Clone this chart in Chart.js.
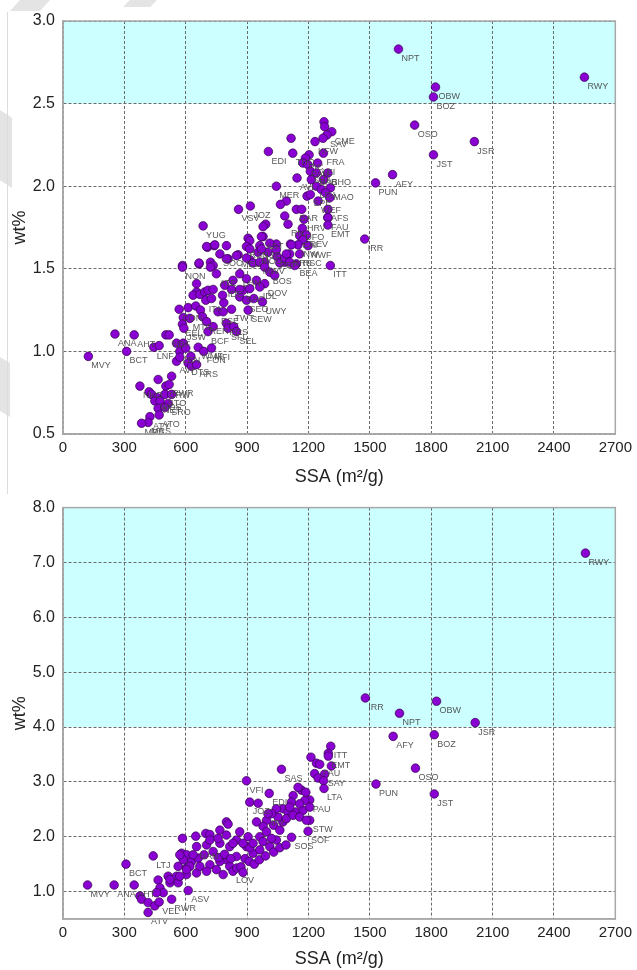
<!DOCTYPE html>
<html>
<head>
<meta charset="utf-8">
<title>SSA vs wt%</title>
<script src="https://cdn.jsdelivr.net/npm/chart.js@4.4.0/dist/chart.umd.min.js"></script>
<style>
  body { margin: 0; background: #fff; }
  #wrap { position: relative; width: 637px; height: 970px; overflow: hidden; }
  canvas { position: absolute; left: 0; }
  .mark { position: absolute; background: #e4e4e4; }
</style>
</head>
<body>
<div id="wrap">
  <!-- faint page marks behind the figure -->
  <div class="mark" style="left:10px;top:0;width:40px;height:11px;clip-path:polygon(25% 0,100% 0,75% 100%,0 100%)"></div>
  <div class="mark" style="left:123px;top:0;width:34px;height:7px;clip-path:polygon(20% 0,100% 0,80% 100%,0 100%)"></div>
  <div class="mark" style="left:0;top:110px;width:12px;height:78px;clip-path:polygon(0 0,100% 10%,100% 100%,0 90%)"></div>
  <div class="mark" style="left:0;top:357px;width:10px;height:60px;clip-path:polygon(0 0,100% 10%,100% 100%,0 90%)"></div>
  <div class="mark" style="left:7px;top:12px;width:1px;height:482px;background:#dcdcdc"></div>
  <canvas id="chartTop" width="637" height="490" style="top:0"></canvas>
  <canvas id="chartBottom" width="637" height="480" style="top:490px"></canvas>
</div>
<script>
// 上段: SSA と wt% (基準 2.5 以上を強調)
const sitesTop = [
  'NPT','OBW','BOZ','RWY','OSO','JSR','JST','AFY','PUN','IRR','ITT',
  '','','CME','SAV','','','KFW','EDI','THO','FRA','','PIC','','PAU','AEI','SUA','RHO','BAB',
  'AVL','','','MER','LDA','','MAO','','','SPE','','','','WEF','BAR','','AFS','JOZ','VSV',
  '','HRV','','','','RN','DFO','YUG','FAU','EMT','AST','','','EAI','REV','',
  '','','','RSN','SSE','','','INW','NWF','SOC','MEU','MOU','','PEF','NRS','RSC',
  '','','','','','BEA','','',
  'MVY','ANA','AHT','BCT','LNF','','','NBF','','','LEN','','','WMF','FON','MFI',
  'AVI','','DTS','','ARS','','','NKO','CRW','RWR','','','WOS','','NET','STO','','SRO','',
  'ATO','ATY','MRS','MPS','',
  'CON','','','','MTG','EEL','JSW','','','','','','','','ITA','','','','RER','BCF','',
  'ESE','','PRS','SFL','','SEL','','','IDE','','SAC','','SEO','','UWY','SEW','TWT',
  '','ATE','','NON','','','','','','MWV','','BOS','','LHN','','','','DOV','','','IDL',
  '','','','','','','','','','','','',''
];
const ssaTop = [
  1640,1821,1811,2549,1719,2011,1811,1611,1528,1475,1307,
  1276,1279,1314,1290,1271,1115,1232,1004,1123,1273,1203,1185,1173,1198,1245,1209,1295,1239,
  1144,1214,1274,1043,1239,1263,1307,1284,1193,1209,1092,1063,1304,1247,1141,1167,1295,916,858,
  1084,1178,1295,991,978,1100,1170,685,1295,1295,978,905,913,1157,1190,1173,
  706,739,799,897,962,1043,1112,1149,1198,767,856,954,1002,1046,1108,1157,
  721,807,913,986,1084,1141,584,665,
  124,254,348,311,444,470,503,519,555,588,571,600,625,661,688,726,
  555,571,612,628,653,531,465,376,503,519,421,433,460,449,474,498,531,514,465,
  470,425,416,384,498,
  568,612,649,588,620,584,591,653,653,636,669,693,709,734,698,726,672,682,702,709,734,
  758,783,799,807,835,848,786,780,791,824,880,864,897,933,975,905,824,
  734,750,665,584,721,799,848,897,929,962,986,1011,1035,864,897,831,946,986,864,913,962,
  1060,1084,1108,1092,1133,1117,913,1011,970,970,702,742,1043
];
const wtTop = [
  2.83,2.60,2.54,2.66,2.37,2.27,2.19,2.07,2.02,1.68,1.52,
  2.39,2.36,2.33,2.31,2.29,2.29,2.27,2.21,2.20,2.20,2.19,2.17,2.14,2.13,2.14,2.09,2.08,2.08,
  2.05,2.04,2.04,2.00,2.00,1.98,1.99,1.96,1.94,1.95,1.91,1.89,1.93,1.91,1.86,1.86,1.86,1.88,1.86,
  1.82,1.80,1.81,1.77,1.755,1.77,1.745,1.76,1.81,1.765,1.695,1.685,1.67,1.70,1.705,1.675,
  1.63,1.64,1.64,1.635,1.64,1.65,1.65,1.645,1.64,1.59,1.585,1.60,1.60,1.575,1.59,1.59,
  1.54,1.56,1.555,1.54,1.54,1.53,1.52,1.53,
  0.97,1.105,1.10,1.00,1.025,1.035,1.10,1.10,1.05,1.05,1.00,1.02,0.97,1.025,1.00,1.02,
  0.94,0.965,0.93,0.91,0.92,0.85,0.83,0.79,0.79,0.80,0.755,0.74,0.72,0.70,0.70,0.74,0.74,0.685,0.655,
  0.615,0.605,0.57,0.565,0.66,
  1.255,1.265,1.275,1.205,1.20,1.165,1.14,1.36,1.41,1.34,1.345,1.36,1.37,1.375,1.31,1.32,1.25,1.21,1.18,1.12,1.15,
  1.24,1.24,1.17,1.14,1.15,1.12,1.295,1.34,1.40,1.375,1.37,1.33,1.31,1.32,1.30,1.25,1.255,
  1.52,1.47,1.535,1.51,1.51,1.56,1.58,1.565,1.535,1.54,1.51,1.48,1.46,1.47,1.44,1.43,1.43,1.41,1.375,1.38,1.39,
  1.535,1.565,1.54,1.59,1.52,1.645,1.62,1.655,1.62,1.695,1.635,1.645,1.615
];

// 下段: SSA と wt% (基準 4.0 以上を強調)
const sitesBottom = [
  'RWY','IRR','NPT','OBW','JSR','AFY','BOZ','OSO','PUN','JST',
  'ITT','','EMT','','','FAU','','','SAY','','','LTA','','','SOF','PAU','STW',
  'SAS','VFI','JOZ','','EDI','','','','','','','','','','','','','SOS',
  'MVY','ANA','AHT','BCT','LTJ','','','','ATV','','','','','','VEL','','','RWR','','','',
  '','','','','','','','','','ASV','',
  '','','','','','','','','','','NAN','','','','','','','','','',
  '','','','','','','','','','','LOV','','','','','','','','','','','','','','','','','','','','','','','',
  '','','','','','IFY','','','','','','','','','','','','',''
];
const ssaBottom = [
  2554,1478,1645,1826,2015,1614,1815,1723,1530,1815,
  1309,1297,1297,1212,1239,1255,1312,1230,1279,1247,1274,1276,1166,1187,1198,1206,1206,
  1068,897,913,954,1008,995,978,1075,1125,1149,1117,1100,1138,1173,1030,1206,1182,1117,
  120,250,348,308,441,376,384,416,416,449,465,474,490,457,470,514,523,531,555,563,580,
  580,604,584,563,604,604,628,653,661,612,649,
  698,718,799,807,767,946,636,690,734,767,653,702,815,848,864,905,962,995,1043,897,
  848,799,767,718,669,620,604,702,750,815,831,783,929,962,913,1011,571,523,588,571,718,758,799,831,880,929,978,1019,1060,1075,1051,1092,1125,1157,1190,
  1157,1108,1043,1019,1002,850,760,790,820,870,890,910,935,960,990,1030,1060,1090,880
];
const wtBottom = [
  7.17,4.53,4.25,4.47,4.08,3.83,3.86,3.25,2.96,2.78,
  3.65,3.52,3.47,3.45,3.34,3.32,3.29,3.15,3.14,3.07,3.02,2.88,2.85,2.81,2.10,2.67,2.30,
  3.23,3.02,2.63,2.61,2.79,2.30,2.19,2.51,2.75,2.90,2.63,2.45,2.45,2.48,2.21,2.54,2.66,1.99,
  1.12,1.12,1.12,1.50,1.65,0.92,0.86,0.80,0.62,0.74,1.21,1.07,0.98,0.98,0.81,1.28,1.16,0.86,1.28,1.16,1.70,
  1.64,1.67,1.97,1.46,1.43,1.31,1.55,1.34,1.61,1.02,2.01,
  2.06,2.04,2.27,2.23,2.12,2.27,1.67,1.67,1.73,1.88,1.82,1.85,1.82,1.94,2.09,2.00,2.00,2.09,1.94,1.82,
  1.64,1.58,1.55,1.49,1.46,1.46,1.40,1.37,1.40,1.46,1.37,1.31,1.70,1.76,1.80,1.82,1.28,1.22,1.58,1.67,1.94,1.97,2.03,1.88,1.88,1.88,1.91,1.97,2.12,2.27,2.36,2.33,2.39,2.36,2.30,
  2.60,2.54,2.51,2.42,2.42,1.43,1.62,1.68,1.60,1.45,1.60,1.55,1.50,1.58,1.65,1.72,1.80,1.85,1.35
];

const xTicks = [0, 300, 600, 900, 1200, 1500, 1800, 2100, 2400, 2700];
const yTicksTop = [0.5, 1.0, 1.5, 2.0, 2.5, 3.0];
const yTicksBottom = [1.0, 2.0, 3.0, 4.0, 5.0, 6.0, 7.0, 8.0];

const FONT = "'Liberation Sans', Arial, sans-serif";
const DOT_COLOR = '#8a00d2';

// 強調帯 (水色) を描くプラグイン
const bandPlugin = {
  id: 'band',
  beforeDraw(chart, args, opts) {
    const { ctx, chartArea } = chart;
    const y = chart.scales.y;
    const top = y.getPixelForValue(opts.to);
    const bottom = y.getPixelForValue(opts.from);
    ctx.save();
    ctx.fillStyle = opts.color;
    ctx.fillRect(chartArea.left, top, chartArea.right - chartArea.left, bottom - top);
    ctx.restore();
  },
  afterDraw(chart) {
    const { ctx, chartArea } = chart;
    ctx.save();
    ctx.strokeStyle = '#a8a8a8';
    ctx.lineWidth = 1.5;
    ctx.strokeRect(chartArea.left, chartArea.top, chartArea.right - chartArea.left, chartArea.bottom - chartArea.top);
    ctx.restore();
  }
};

// 地点コードのラベル
const siteLabelPlugin = {
  id: 'siteLabels',
  afterDatasetsDraw(chart, args, opts) {
    const { ctx } = chart;
    const meta = chart.getDatasetMeta(0);
    ctx.save();
    ctx.font = '9px ' + FONT;
    ctx.fillStyle = 'rgba(70,70,70,0.9)';
    ctx.textBaseline = 'alphabetic';
    meta.data.forEach((pt, i) => {
      const name = opts.names[i];
      if (name) ctx.fillText(name, pt.x + 3, pt.y + 12);
    });
    ctx.restore();
  }
};

function makeChart(canvasId, ssa, wt, names, yMin, yMax, yTicks, band, pad, xAxisHeight, titlePad) {
  const ctx = document.getElementById(canvasId).getContext('2d');
  return new Chart(ctx, {
    type: 'scatter',
    data: {
      datasets: [{
        data: ssa.map((x, i) => ({ x: x, y: wt[i] })),
        pointRadius: 4.3,
        pointBackgroundColor: DOT_COLOR,
        pointBorderColor: 'rgba(45,0,70,0.85)',
        pointBorderWidth: 0.8,
        pointHoverRadius: 4.3
      }]
    },
    options: {
      responsive: false,
      animation: false,
      devicePixelRatio: 1,
      events: [],
      layout: { padding: pad },
      plugins: {
        legend: { display: false },
        tooltip: { enabled: false },
        band: band,
        siteLabels: { names: names }
      },
      scales: {
        x: {
          type: 'linear',
          min: 0,
          max: 2700,
          afterBuildTicks: (axis) => { axis.ticks = xTicks.map(v => ({ value: v })); },
          afterFit: (axis) => { axis.height = xAxisHeight; },
          ticks: {
            font: { family: FONT, size: 15 },
            color: '#222',
            padding: 5,
            maxRotation: 0,
            callback: (v) => String(v)
          },
          grid: { color: '#6a6a6a', lineWidth: 1, drawTicks: false },
          border: { dash: [3, 2], color: '#a8a8a8', width: 1.5 },
          title: {
            display: true,
            text: 'SSA (m²/g)',
            font: { family: FONT, size: 18 },
            color: '#222',
            padding: { top: 0, bottom: titlePad }
          }
        },
        y: {
          type: 'linear',
          min: yMin,
          max: yMax,
          afterBuildTicks: (axis) => { axis.ticks = yTicks.map(v => ({ value: v })); },
          afterFit: (axis) => { axis.width = 63; },
          ticks: {
            font: { family: FONT, size: 16 },
            color: '#222',
            padding: 8,
            callback: (v) => Number(v).toFixed(1)
          },
          grid: { color: '#6a6a6a', lineWidth: 1, drawTicks: false },
          border: { dash: [3, 2], color: '#a8a8a8', width: 1.5 },
          title: {
            display: true,
            text: 'wt%',
            font: { family: FONT, size: 18 },
            color: '#222',
            padding: { top: 9, bottom: 0 }
          }
        }
      }
    },
    plugins: [bandPlugin, siteLabelPlugin]
  });
}

document.addEventListener('DOMContentLoaded', () => {
  makeChart('chartTop', ssaTop, wtTop, sitesTop, 0.5, 3.0, yTicksTop,
    { from: 2.5, to: 3.0, color: '#ccffff' },
    { left: 0, right: 21, top: 21, bottom: 0 }, 56, 2);

  makeChart('chartBottom', ssaBottom, wtBottom, sitesBottom, 0.5, 8.0, yTicksBottom,
    { from: 4.0, to: 8.0, color: '#ccffff' },
    { left: 0, right: 20, top: 13, bottom: 0 }, 51, 0);
});
</script>
</body>
</html>
